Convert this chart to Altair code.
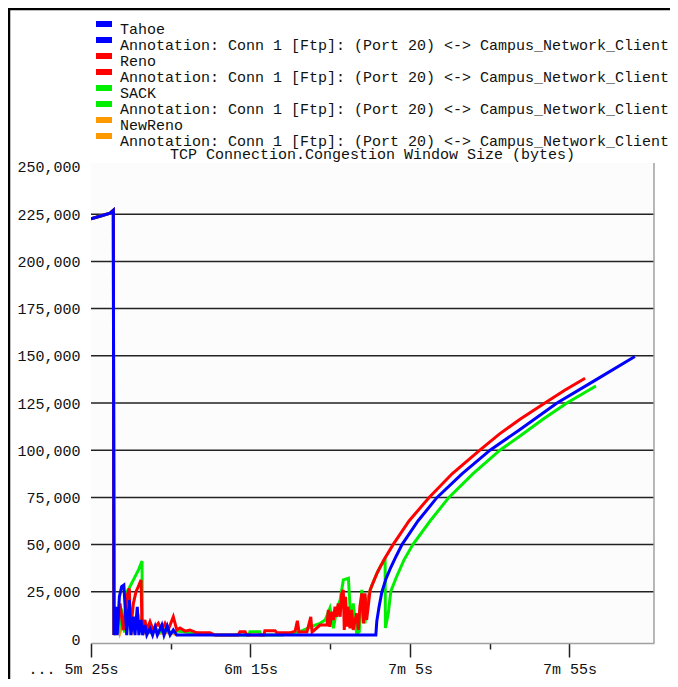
import altair as alt
import pandas as pd

ANNOTATION = "Annotation: Conn 1 [Ftp]: (Port 20) <-> Campus_Network_Client"
TITLE = "TCP Connection.Congestion Window Size (bytes)"

legend_keys = ["Tahoe", "Tahoe|ann", "Reno", "Reno|ann", "SACK", "SACK|ann", "NewReno", "NewReno|ann"]
legend_colors = ["#0000ff", "#0000ff", "#ff0000", "#ff0000", "#00ee00", "#00ee00", "#ff9900", "#ff9900"]

# time in seconds, congestion window in bytes
tahoe_t = [325.0, 328.0, 331.0, 332.0, 332.2, 332.8, 333.2, 333.9, 334.6, 335.3, 336.2, 337.0, 337.5, 338.3,
           338.8, 339.5, 340.0, 340.7, 341.2, 341.9, 342.5, 343.5, 344.3, 345.1, 345.8, 347.2, 347.9, 348.9,
           349.8, 350.8, 351.9, 414.3, 414.6, 415.3, 416.2, 417.5, 419.0, 420.7, 422.5, 427.5, 433.5, 441.3,
           450.1, 459.5, 471.1, 483.0, 495.5]
tahoe_v = [222500, 224000, 225500, 227000, 2100, 17100, 2100, 22400, 27700, 28600, 2100, 20700, 2100, 11800,
           2100, 17100, 2100, 10100, 2100, 7400, 2100, 5600, 2100, 6500, 2100, 7400, 2100, 6900,
           2100, 4800, 2100, 2100, 9500, 17000, 25000, 32000, 38000, 44000, 50000, 62500, 75000, 87500,
           100000, 111000, 125000, 137000, 149600]

reno_t = [325.0, 328.0, 331.0, 332.0, 332.2, 332.5, 333.2, 334.1, 335.1, 336.2,
          337.0, 337.4, 338.3, 339.1, 339.8, 340.7, 341.0, 341.9, 342.5, 343.5,
          344.5, 346.1, 347.2, 348.2, 349.2, 350.8, 351.9, 352.9, 354.5, 356.0,
          358.2, 362.3, 363.9, 371.1, 371.7, 373.3, 373.9, 379.2, 379.5, 382.7,
          383.3, 387.4, 389.0, 389.7, 390.2, 392.7, 393.9, 394.3, 396.8, 399.0,
          399.4, 399.9, 400.5, 401.0, 401.5, 402.0, 402.5, 403.1, 403.6, 404.1,
          404.4, 404.8, 405.3, 405.6, 406.2, 406.7, 407.2, 407.8, 408.3, 408.8,
          409.3, 409.9, 410.4, 410.9, 411.4, 411.9, 412.5, 414.7, 416.8, 419.7,
          424.7, 431.0, 438.2, 446.9, 453.0, 459.5, 467.3, 473.5, 479.9]
reno_v = [222500, 224000, 225500, 227000, 2100, 15400, 4800, 18900, 4800, 22400,
          26800, 4800, 18900, 25000, 27700, 31300, 4800, 10100, 4800, 9200,
          4800, 8300, 4800, 8300, 4800, 11800, 4800, 5800, 4200, 4800,
          3300, 3300, 2100, 2100, 3900, 3900, 2100, 2100, 4400, 4400,
          3300, 3300, 4200, 9700, 3700, 3700, 11800, 3700, 7400, 7400,
          15400, 6500, 14500, 10100, 17100, 11800, 18900, 11800, 24200, 26000,
          4800, 22400, 6500, 17100, 5700, 15400, 4800, 10100, 13600, 4800,
          17100, 24200, 8300, 24200, 10100, 17100, 26000, 35000, 41800, 50000,
          62500, 75000, 87500, 100000, 108500, 116400, 125000, 131800, 138100]

sack_t = [325.0, 328.0, 331.0, 332.0, 332.2, 333.0, 333.6, 334.5, 335.5, 336.2,
          337.0, 338.5, 340.0, 341.0, 341.1, 342.0, 343.5, 345.0, 346.5, 348.0,
          350.0, 352.0, 356.0, 360.0, 364.0, 374.5, 374.8, 377.9, 378.2, 385.0,
          388.0, 390.5, 395.2, 396.8, 398.4, 399.9, 401.0, 402.0, 403.1, 404.1,
          405.7, 406.2, 406.7, 407.2, 407.8, 408.3, 409.1, 409.9, 410.9, 411.4,
          411.9, 413.1, 414.7, 415.9, 417.2, 417.3, 418.2, 419.0, 420.8, 423.1,
          425.9, 431.3, 437.2, 444.7, 453.2, 459.5, 466.8, 474.2, 483.3]
sack_v = [222500, 224000, 225500, 227000, 2100, 12000, 3000, 16000, 3500, 25000,
          27000, 32000, 37000, 41300, 4000, 5500, 3500, 6000, 3500, 5000,
          3500, 4200, 3500, 3000, 2100, 2100, 3900, 3900, 2100, 2100,
          3300, 3900, 7400, 8300, 10100, 16300, 5700, 15400, 20700, 31300,
          32200, 17100, 8300, 18900, 10100, 3000, 3900, 26000, 8300, 18900,
          22400, 28600, 35000, 39000, 41600, 5800, 13600, 25400, 33000, 41800,
          50000, 62500, 75000, 87500, 100000, 107500, 116500, 125000, 134000]

newreno_t = [325.0, 328.0, 331.0, 332.0, 332.2, 333.0, 334.0, 336.0, 338.0, 340.0, 341.2, 342.0, 344.0,
             346.0, 350.0, 352.0]
newreno_v = [222500, 224000, 225500, 227000, 2100, 9000, 3000, 14000, 4000, 12000, 8000, 3500, 6000,
             3000, 3500, 2100]

grid_values = [25000, 50000, 75000, 100000, 125000, 150000, 175000, 200000, 225000]
y_ticks = [0, 25000, 50000, 75000, 100000, 125000, 150000, 175000, 200000, 225000, 250000]
x_ticks = [325, 350, 375, 400, 425, 450, 475]
x_domain = [325, 501.5]
y_domain = [-2100, 252100]

rows = []
for name, ts, vs in [("NewReno", newreno_t, newreno_v), ("SACK", sack_t, sack_v),
                     ("Reno", reno_t, reno_v), ("Tahoe", tahoe_t, tahoe_v)]:
    for i, (t, v) in enumerate(zip(ts, vs)):
        rows.append({"series": name, "t": t, "v": v, "i": i})
df = pd.DataFrame(rows)

FONT = "Liberation Mono"
W, H = 563, 480

x_axis = alt.Axis(
    values=x_ticks, title=None, grid=False,
    labelExpr=("(datum.value - 325) % 50 != 0 ? '' : (datum.value == 325 ? '... 5m 25s' : "
               "floor(datum.value / 60) + 'm ' + (datum.value % 60) + 's')"),
    labelFont=FONT, labelFontSize=15, labelColor="#111",
    labelFlush=False, labelOverlap=False, labelPadding=4,
    labelOffset={"condition": {"test": "datum.value == 325", "value": -18}, "value": 0},
    tickSize={"condition": {"test": "(datum.value - 325) % 50 == 0", "value": 14}, "value": 6},
    tickColor="#222", tickWidth=1.5,
    domainColor="#a0a0a0", domainWidth=1.5,
)
y_axis = alt.Axis(
    values=y_ticks, labelExpr="format(datum.value, ',.0f')", title=None, grid=False, ticks=False,
    domain=False, labelFont=FONT, labelFontSize=15, labelColor="#111", labelPadding=11,
)
xs = alt.Scale(domain=x_domain, nice=False, zero=False)
ys = alt.Scale(domain=y_domain, nice=False, zero=False)

legend = alt.Legend(
    title=None, orient="none", legendX=5.5, legendY=-142, padding=0,
    labelExpr=f"indexof(datum.label, '|ann') >= 0 ? '{ANNOTATION}' : datum.label",
    labelFont=FONT, labelFontSize=15, labelColor="#111", labelLimit=800, labelOffset=8.5,
    symbolType="M-2.667,-1.5L2.667,-1.5", symbolSize=36, symbolStrokeWidth=6,
    rowPadding=-9.6, symbolOpacity=1,
)
color = alt.Color("series:N", scale=alt.Scale(domain=legend_keys, range=legend_colors), legend=legend)

grid = alt.Chart(pd.DataFrame({"g": grid_values})).mark_rule(color="#222", strokeWidth=1.5).encode(
    y=alt.Y("g:Q", scale=ys, axis=y_axis)
)

def line_layer(name):
    return alt.Chart(df).transform_filter(alt.datum.series == name).mark_line(
        strokeWidth=3, clip=True
    ).encode(
        x=alt.X("t:Q", scale=xs, axis=x_axis),
        y=alt.Y("v:Q", scale=ys, axis=y_axis),
        color=color,
        order="i:Q",
    )

dummy = pd.DataFrame({"a": [0]})
title_text = alt.Chart(dummy).mark_text(
    text=TITLE, font=FONT, fontSize=15, color="#111", align="center", baseline="alphabetic"
).encode(x=alt.value(W / 2), y=alt.value(-4))
right_border = alt.Chart(dummy).mark_rule(color="#a0a0a0", strokeWidth=1.5).encode(
    x=alt.value(W), y=alt.value(0), y2=alt.value(H)
)
frame_left = alt.Chart(dummy).mark_rule(color="#000", strokeWidth=2.5).encode(
    x=alt.value(-82), y=alt.value(-155), y2=alt.value(540)
)
frame_top = alt.Chart(dummy).mark_rule(color="#000", strokeWidth=2.5).encode(
    y=alt.value(-154), x=alt.value(-83), x2=alt.value(600)
)

chart = alt.layer(
    grid, line_layer("NewReno"), line_layer("SACK"), line_layer("Reno"), line_layer("Tahoe"),
    right_border, frame_left, frame_top, title_text,
).properties(
    width=W, height=H,
    autosize=alt.AutoSizeParams(type="none"),
    padding={"left": 83, "top": 155, "right": 16, "bottom": 36},
).configure_view(stroke=None, fill="#fcfcfc")

chart.save("out.html", embed_options={"renderer": "svg", "actions": False})
